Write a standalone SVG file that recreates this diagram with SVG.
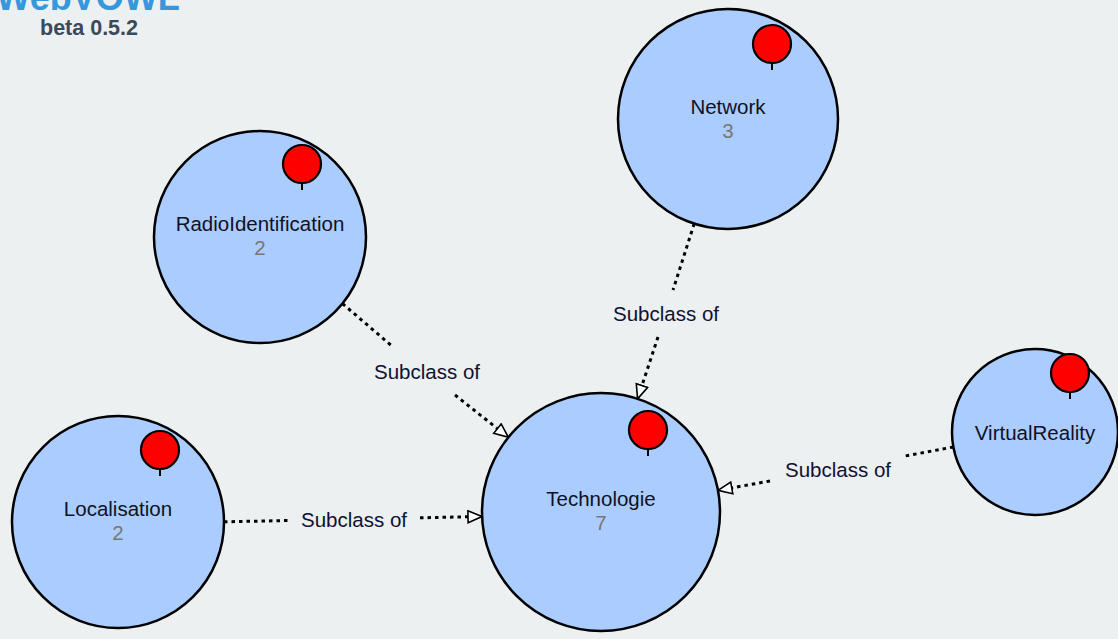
<svg xmlns="http://www.w3.org/2000/svg" width="1118" height="639" viewBox="0 0 1118 639">
<style>
.cls{fill:#aaccff;stroke:#000;stroke-width:2.5}
.pin{fill:#ff0000;stroke:#000;stroke-width:2.2}
.stem{stroke:#000;stroke-width:2}
.name{font-family:"Liberation Sans",Arial,sans-serif;font-size:20.5px;fill:#111122;text-anchor:middle}
.cnt{font-family:"Liberation Sans",Arial,sans-serif;font-size:20.5px;fill:#777;text-anchor:middle}
.lbl{font-family:"Liberation Sans",Arial,sans-serif;font-size:20.5px;fill:#111133;text-anchor:middle}
.edge{fill:none;stroke:#000;stroke-width:3;stroke-dasharray:3.5 4;marker-end:url(#tri)}
</style>
<defs>
<marker id="tri" markerUnits="userSpaceOnUse" markerWidth="18" markerHeight="16" refX="15" refY="7" orient="auto">
<path d="M1,1 L15,7 L1,13 z" fill="#fff" stroke="#000" stroke-width="1.6"/>
</marker>
</defs>
<rect width="1118" height="639" fill="#ecf0f1"/>
<g id="title">
<text x="88" y="10" font-family="'Liberation Sans',Arial,sans-serif" font-size="36" font-weight="bold" fill="#3498db" text-anchor="middle">WebVOWL</text>
<text x="89" y="35" font-family="'Liberation Sans',Arial,sans-serif" font-size="21.5" font-weight="bold" fill="#3a4a5a" text-anchor="middle">beta 0.5.2</text>
</g>
<g id="connectors">
<path class="edge" d="M342.5,303.6 L393,347 M455,395 L508.4,437.3"/>
<path class="edge" d="M694.2,223.7 L673,290 M658,337 L637.6,398.8"/>
<path class="edge" d="M953.4,447 L905,456 M770,481 L718,490.4"/>
<path class="edge" d="M224,521.8 L290,520.5 M420,517.8 L482,516.5"/>
<text class="lbl" x="427" y="379">Subclass of</text>
<text class="lbl" x="666" y="321">Subclass of</text>
<text class="lbl" x="838" y="477">Subclass of</text>
<text class="lbl" x="354" y="527">Subclass of</text>
</g>
<g id="Network">
<circle class="cls" cx="728" cy="119" r="110"/>
<line class="stem" x1="772" y1="63" x2="772" y2="70"/>
<circle class="pin" cx="772" cy="44" r="19"/>
<text class="name" x="728" y="114">Network</text>
<text class="cnt" x="728" y="138">3</text>
</g>
<g id="RadioIdentification">
<circle class="cls" cx="260" cy="237" r="106"/>
<line class="stem" x1="302" y1="183" x2="302" y2="190"/>
<circle class="pin" cx="302" cy="164" r="19"/>
<text class="name" x="260" y="231">RadioIdentification</text>
<text class="cnt" x="260" y="255">2</text>
</g>
<g id="Technologie">
<circle class="cls" cx="601" cy="512" r="119"/>
<line class="stem" x1="648" y1="449" x2="648" y2="456"/>
<circle class="pin" cx="648" cy="430" r="19"/>
<text class="name" x="601" y="506">Technologie</text>
<text class="cnt" x="601" y="530">7</text>
</g>
<g id="Localisation">
<circle class="cls" cx="118" cy="522" r="106"/>
<line class="stem" x1="160" y1="469" x2="160" y2="476"/>
<circle class="pin" cx="160" cy="450" r="19"/>
<text class="name" x="118" y="516">Localisation</text>
<text class="cnt" x="118" y="540">2</text>
</g>
<g id="VirtualReality">
<circle class="cls" cx="1035" cy="432" r="83"/>
<line class="stem" x1="1070" y1="392" x2="1070" y2="399"/>
<circle class="pin" cx="1070" cy="373" r="19"/>
<text class="name" x="1035" y="440">VirtualReality</text>
</g>
</svg>
